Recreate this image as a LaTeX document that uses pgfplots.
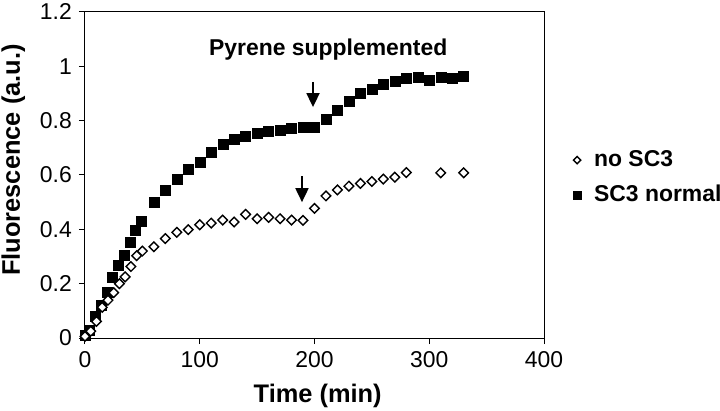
\documentclass[border=0pt]{standalone}
\usepackage{pgfplots}
\pgfplotsset{compat=1.18}
\usepackage{fontspec}
\setmainfont{Liberation Sans}
\usetikzlibrary{arrows.meta}
\pgfplotsset{
  sqleg/.style={legend image code/.code={\draw[##1, mark size=4bp] plot coordinates {(4bp,0bp)};}},
  dmleg/.style={legend image code/.code={\draw[##1, mark size=2.6bp] plot coordinates {(4bp,0bp)};}},
}
\begin{document}
\begin{tikzpicture}
\useasboundingbox (-85bp,-73bp) rectangle (635bp,338bp);
\begin{axis}[
  scale only axis,
  width=459bp, height=326bp,
  xmin=0, xmax=400, ymin=0, ymax=1.2,
  xtick={0,100,200,300,400},
  ytick={0,0.2,0.4,0.6,0.8,1,1.2},
  /pgf/number format/assume math mode=true,
  tick align=outside,
  xtick pos=bottom, ytick pos=left,
  major tick length=6bp,
  axis line style={line width=1bp},
  every tick/.style={black, line width=1bp},
  clip=false,
  ticklabel style={font=\fontsize{23}{27}\selectfont},
  yticklabel style={inner sep=7bp},
  xticklabel style={inner sep=7bp},
  xlabel={Time (min)},
  ylabel={Fluorescence (a.u.)},
  label style={font=\bfseries\fontsize{25.5}{29}\selectfont},
  xlabel style={at={(axis description cs:0.507,0)}, anchor=base, yshift=-64bp},
  ylabel style={at={(axis description cs:-0.156,0.546)}, anchor=center},
  reverse legend,
  legend style={draw=none, fill=none, inner sep=0pt,
    at={(1.063,0.492)}, anchor=west,
    font=\bfseries\fontsize{23}{27}\selectfont,
    nodes={inner sep=0pt, anchor=west, text height=17bp, text depth=5bp},
    row sep=13bp,
    /tikz/every odd column/.append style={column sep=13bp}},
  legend cell align=left,
]
\addplot[only marks, mark=square*, mark size=5bp, black, fill=black, sqleg]
coordinates {
(0,0.012) (4,0.028) (9,0.079) (14,0.120) (19,0.168) (24,0.222) (29,0.267)
(34,0.305) (39,0.351) (44,0.397) (49,0.431) (60,0.499) (70,0.544) (80,0.583)
(90,0.621) (100,0.648) (110,0.685) (120,0.714) (130,0.730) (140,0.742)
(150,0.753) (160,0.760) (170,0.766) (180,0.772) (190,0.777) (200,0.775)
(210,0.805) (220,0.839) (230,0.873) (240,0.901) (250,0.917) (260,0.933)
(270,0.945) (280,0.956) (290,0.961) (300,0.950) (310,0.961) (320,0.956)
(330,0.962)
};
\addlegendentry{SC3 normal}
\addplot[only marks, mark=square*, mark size=3.4bp,
  mark options={rotate=45, draw=black, fill=white, line width=1.4bp}, dmleg]
coordinates {
(0,0.006) (5,0.025) (10,0.061) (15,0.113) (20,0.139) (25,0.167) (30,0.200)
(35,0.225) (40,0.263) (45,0.303) (50,0.320) (60,0.336) (70,0.366) (80,0.389)
(90,0.399) (100,0.417) (110,0.423) (120,0.434) (130,0.427) (140,0.455)
(150,0.439) (160,0.444) (170,0.439) (180,0.434) (190,0.433) (200,0.477)
(210,0.523) (220,0.545) (230,0.559) (240,0.569) (250,0.576) (260,0.585)
(270,0.592) (280,0.609) (310,0.608) (330,0.608)
};
\addlegendentry{no SC3}
\draw[line width=1.8bp, -{Triangle[width=13bp,length=14bp]}] (axis cs:198.7,0.943) -- (axis cs:198.7,0.850);
\draw[line width=1.8bp, -{Triangle[width=13bp,length=14bp]}] (axis cs:189.1,0.596) -- (axis cs:189.1,0.500);
\node[anchor=base, inner sep=0pt, font=\bfseries\fontsize{23}{27}\selectfont] at (axis cs:212,1.039) {Pyrene supplemented};
\end{axis}
\end{tikzpicture}
\end{document}
